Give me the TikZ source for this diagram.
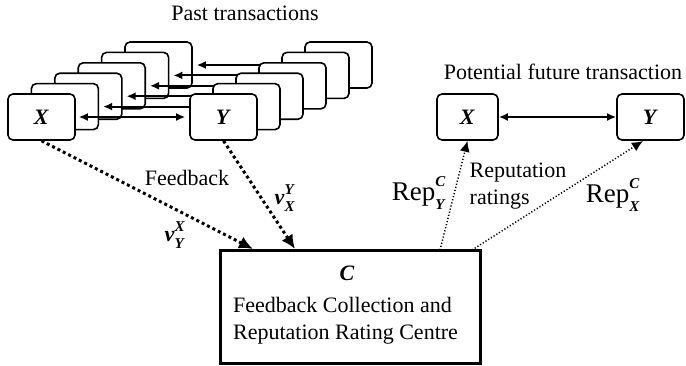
\documentclass[tikz,border=0pt]{standalone}
\usepackage{fontspec}
\setmainfont{Liberation Serif}
\usepackage{amsmath}
\usetikzlibrary{arrows.meta}
\newcommand{\bi}[1]{\textbf{\textit{#1}}}
\newcommand{\scr}[1]{\text{\fontsize{15}{15}\selectfont\bi{#1}}}
\newcommand{\sps}[1]{^{\raisebox{2.5pt}{\scr{#1}}}}
\newcommand{\sbs}[1]{_{\raisebox{-2pt}{\scr{#1}}}}

\begin{document}
\begin{tikzpicture}[x=1pt, y=-1pt,
    font=\fontsize{22}{27}\selectfont,
    >={Latex[length=9pt,width=8pt]},
    tbox/.style={draw, line width=1.6pt, rounded corners=5pt, fill=white,
      minimum width=67pt, minimum height=46pt, inner sep=0pt},
    deal/.style={line width=2pt},
    fb/.style={line width=3pt, dash pattern=on 3pt off 3pt,
      -{Latex[length=14pt,width=13pt]}},
    rep/.style={line width=1.5pt, dash pattern=on 1.2pt off 2pt,
      -{Latex[length=11pt,width=10pt]}},
    replab/.style={font=\fontsize{27}{30}\selectfont}]
    \useasboundingbox (0,0) rectangle (686,365);
    % past transactions, back to front
    \node (past) at (245,13) {Past transactions};
    \foreach \k in {5,...,1}{
      \node[tbox] (l\k) at (41.5+23.4*\k, 117-10.4*\k) {};
      \node[tbox] (r\k) at (223.5+23*\k, 117-10.4*\k) {};
      \draw[deal, <-, shorten <=4pt] (l\k) -- (r\k);
    }
    \node[tbox] (l0) at (41.5,117) {\bi{X}};
    \node[tbox] (r0) at (223.5,117) {\bi{Y}};
    \draw[deal, <->, shorten <=3pt, shorten >=4pt] (l0) -- (r0);
    % potential future transaction
    \node (future) at (563,72) {Potential future transaction};
    \node[tbox, minimum width=61pt] (fx) at (467.5,117) {\bi{X}};
    \node[tbox] (fy) at (650.5,117) {\bi{Y}};
    \draw[deal, <->] (fx) -- (fy);
    % centre
    \node[draw, line width=3pt, minimum width=260pt, minimum height=113pt] (c) at (350,306.5) {};
    \node (cname) at (347,273) {\bi{C}};
    \node[align=left] (ctext) at (345.5,321) {Feedback Collection and\\Reputation Rating Centre};
    % feedback
    \coordinate (inx) at (253,249);
    \coordinate (iny) at (295,249);
    \draw[fb] (l0.south) -- (inx);
    \draw[fb] (r0.south) -- (iny);
    \node (fbl) at (187,178) {Feedback};
    \node (vx) at (175,235) {$\bi{v}\sps{X}\sbs{Y}$};
    \node (vy) at (285,198) {$\bi{v}\sps{Y}\sbs{X}$};
    % reputation ratings
    \coordinate (outx) at (440,250);
    \coordinate (outy) at (472,250);
    \coordinate (toy) at (643,141);
    \draw[rep] (outx) -- (fx.south);
    \draw[rep] (outy) -- (toy);
    \node[replab] (repy) at (419,193) {$\text{Rep}\sps{C}\sbs{Y}$};
    \node[align=left] (rr) at (518,186) {Reputation\\ratings};
    \node[replab] (repx) at (613,195) {$\text{Rep}\sps{C}\sbs{X}$};
\end{tikzpicture}
\end{document}
